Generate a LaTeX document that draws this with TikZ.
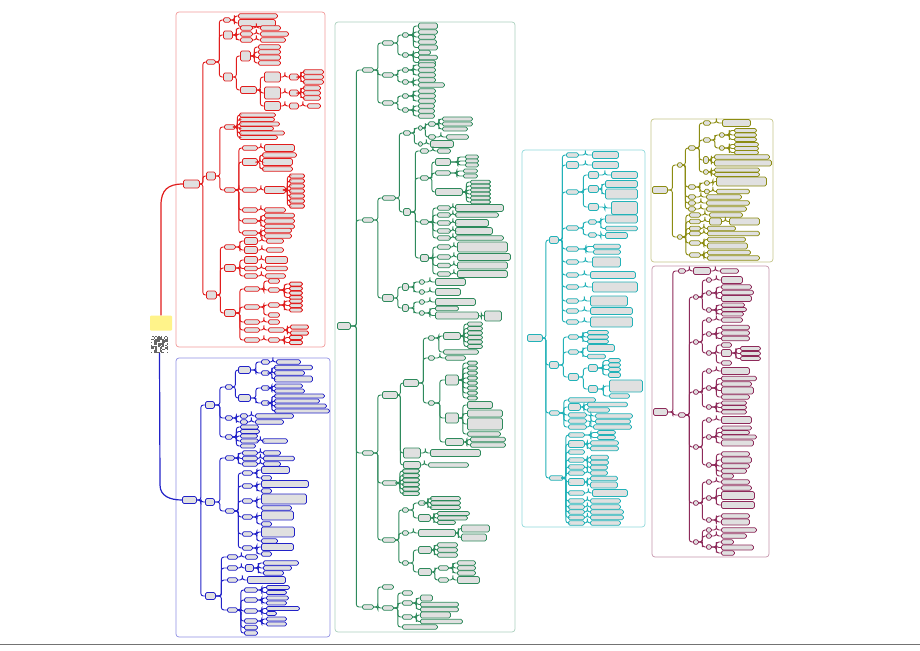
\documentclass[tikz,border=0pt]{standalone}
\usetikzlibrary{calc}
\definecolor{cred}{HTML}{E11D1D}
\definecolor{cblue}{HTML}{2222C8}
\definecolor{cgreen}{HTML}{2E8A5C}
\definecolor{ccyan}{HTML}{22B2B8}
\definecolor{colive}{HTML}{8C8C12}
\definecolor{cmar}{HTML}{8E2A5A}
\definecolor{cyel}{HTML}{FFF38A}
\colorlet{br}{cred}
\tikzset{
  bx/.style={draw=br, fill=black!12, line width=0.8pt, rounded corners=1.5pt, inner sep=0pt, anchor=west},
  ln/.style={draw=br, line width=0.9pt, rounded corners=2.5pt},
  frm/.style={line width=0.7pt, rounded corners=3pt},
}
\newcommand\nd[6][4.5]{%
  \node[bx, minimum width=#6pt, minimum height=#1pt] (#2) at (#4,#5) {};
  \draw[ln] (#3.east) -| ($(#3.east)!.5!(#2.west)$) |- (#2.west);}
\newcommand\stk[4]{%
  \foreach \yy/\ww/\hh [count=\i] in {#4} {\nd[\hh]{#2\i}{#1}{#3}{\yy}{\ww}}}
\begin{document}
\begin{tikzpicture}[x=1pt,y=-1pt]
\useasboundingbox[fill=white] (0,0) rectangle (920,650);
\draw[black!55, line width=0.8pt] (0,644) -- (920,644);
% frames
\draw[frm, draw=cred!45] (176,12) rectangle (325,347);
\draw[frm, draw=cblue!50] (176,358) rectangle (330,637);
\draw[frm, draw=cgreen!40] (335,22) rectangle (515,632);
\draw[frm, draw=ccyan!50] (522,150) rectangle (645,527);
\draw[frm, draw=colive!50] (651,119) rectangle (773,262);
\draw[frm, draw=cmar!50] (652,266) rectangle (769,557);

% root
\node[fill=cyel, rounded corners=1pt, minimum width=22pt, minimum height=15pt, inner sep=0pt] (root) at (161,323) {};
\node[fill=black!60, minimum size=17pt, inner sep=0pt] (qr) at (159.5,344.5) {};
\pgfmathsetseed{11}
\foreach \i in {0,...,11}
  \foreach \j in {0,...,11} {
    \pgfmathtruncatemacro\rr{rnd*2}
    \ifnum\rr=1 \fill[white] (151+\i*1.42,336+\j*1.42) rectangle ++(1.42,1.42); \fi}

% red
\colorlet{br}{cred}
\node[bx, minimum width=16pt, minimum height=8pt] (R) at (183,184) {};
\draw[cred, line width=1.2pt] (root.north) -- (161,205) .. controls (161,190) and (168,184) .. (R.west);
\nd{R1}{R}{206}{62}{9}
\nd[8]{R2}{R}{206}{176}{9}
\nd[8]{R3}{R}{206}{295}{10}
\nd{R1a}{R1}{223}{20}{7}
\nd[8]{R1b}{R1}{223}{35}{9}
\nd[8]{R1c}{R1}{223}{77}{9}
\stk{R1a}{R1a}{238}{16/39/4.5, 23/37/7}
\stk{R1b}{R1b}{240}{28/12/4.5, 34/12/4.5, 40/12/4.5}
\nd{R1b1a}{R1b1}{260}{28}{20}
\nd{R1b2a}{R1b2}{260}{34}{28}
\nd{R1b3a}{R1b3}{260}{40}{25}
\nd[10]{c1}{R1c}{240}{56}{10}
\nd[7]{c2}{R1c}{240}{90}{16}
\stk{c1}{c1}{258}{47/22/4.5, 52/22/4.5, 57.5/22/5, 63/22/4.5}
\nd[10]{c2a}{c2}{264}{77}{16}
\nd[12]{c2b}{c2}{264}{93}{16}
\nd[9]{c2c}{c2}{264}{106}{16}
\nd[6]{c2ax}{c2a}{289}{77}{9}
\nd[6]{c2bx}{c2b}{289}{93}{9}
\nd[6]{c2cx}{c2c}{289}{106}{9}
\stk{c2ax}{c2ax}{303}{72/20/4.5, 77/20/4.5, 82/20/4.5}
\stk{c2bx}{c2bx}{303}{88/17/4.5, 93/17/4.5, 98/17/4.5}
\nd{c2cx1}{c2cx}{307}{106}{13}
\nd{R2a}{R2}{224}{127}{11}
\nd{R2b}{R2}{224}{190}{11}
\stk{R2a}{R2a}{239}{115/36/4, 119.5/35/4, 124/40/4, 128.5/34/4, 133/45/4, 137.5/38/4}
\stk{R2b}{b}{242}{148/15/4.5, 162/15/7, 190/15/4.5, 210/15/4.5, 221/15/4.5, 233/15/4.5}
\nd[7]{b1x}{b1}{264}{148}{30}
\stk{b2}{b2x}{262}{155/34/4.5, 162/30/7, 169/30/4.5}
\nd[7]{b3x}{b3}{264}{190}{21}
\stk{b3x}{b3y}{289}{176/15/4.2, 181/15/4.2, 186/15/4.2, 191/15/4.2, 196/15/4.2, 201/15/4.2, 206/15/4.2}
\nd{b4x}{b4}{264}{210}{21}
\stk{b5}{b5x}{264}{215.5/30/4.5, 221/30/4.5, 226.5/30/4.5}
\stk{b6}{b6x}{264}{230.5/27/4.5, 236/27/4.5}
\nd{R3a}{R3}{224}{247}{11}
\nd[7]{R3b}{R3}{224}{268}{11}
\nd[7]{R3c}{R3}{224}{313}{11}
\stk{R3a}{ra}{244}{241/13/7, 250/13/7}
\nd{ra1x}{ra1}{266}{241}{17}
\nd{ra2x}{ra2}{266}{250}{17}
\stk{R3b}{rb}{244}{260/13/7, 268.5/13/4.5, 276/13/4.5}
\nd[7]{rb1x}{rb1}{265}{260}{22}
\nd{rb2x}{rb2}{265}{268.5}{22}
\nd{rb3x}{rb3}{265}{276}{20}
\stk{R3c}{rc}{244}{289/15/4.5, 307/15/4.5, 322/15/4.5, 330/15/4.5, 340/15/4.5}
\stk{rc1}{rc1x}{268}{281/11/4.5, 290/11/4.5}
\stk{rc1x2}{rc1y}{289}{284/13/3.8, 288.5/13/3.8, 293/13/3.8, 297.5/13/3.8}
\stk{rc2}{rc2x}{268}{305/11/4.5, 315/11/4.5}
\stk{rc2x1}{rc2y}{289}{301/13/3.8, 305.5/13/3.8, 310/13/3.8}
\nd{rc3x}{rc3}{268}{322}{11}
\nd{rc4x}{rc4}{268}{330}{16}
\stk{rc4x}{rc4y}{290}{327/18/4.2, 333/18/4.2}
\nd{rc5x}{rc5}{268}{340}{11}
\stk{rc5x}{rc5y}{289}{337.5/13/4.2, 342.5/13/4.2}

% blue
\colorlet{br}{cblue}
\node[bx, minimum width=14pt, minimum height=7pt] (B) at (182,500) {};
\draw[cblue, line width=1.2pt] (qr.south) -- (160,485) .. controls (160,496) and (170,500) .. (B.west);
\nd[7]{B1}{B}{205}{405}{9}
\nd[7]{B2}{B}{205}{502}{9}
\nd[7]{B3}{B}{205}{596}{10}
\nd{B1a}{B1}{225}{387}{7}
\nd{B1b}{B1}{225}{418}{7}
\nd{B1c}{B1}{225}{437}{7}
\nd[7]{a1}{B1a}{238}{370}{12}
\nd[7]{a2}{B1a}{238}{398}{12}
\nd{a1a}{a1}{261}{362}{8}
\nd{a1b}{a1}{261}{373}{8}
\nd{a1ax}{a1a}{276}{362}{24}
\stk{a1b}{a1bx}{274}{367.5/38/4.5, 373/30/4.5, 379/38/6}
\nd{a2a}{a2}{261}{388}{8}
\nd{a2b}{a2}{261}{403}{8}
\stk{a2a}{a2ax}{274}{386/28/4, 391/30/4}
\stk{a2b}{a2bx}{274}{396/50/4, 401/45/4, 406/52/4, 411/55/4}
\stk{B1b}{bb}{240}{416/7/4.5, 422/7/4.5}
\nd{bb1x}{bb1}{255}{416}{38}
\nd{bb2x}{bb2}{255}{422}{28}
\stk{B1c}{bc}{240}{427/18/4, 431.5/19/4, 436/17/4, 441/18/4, 446/15/4}
\nd{bc4x}{bc4}{262}{441}{25}
\nd{B2a}{B2}{225}{458}{9}
\nd{B2b}{B2}{225}{511}{9}
\stk{B2a}{ba}{242}{453/15/4.5, 458.5/15/4.5, 464/15/4.5}
\nd{ba1x}{ba1}{263}{453}{17}
\nd{ba2x}{ba2}{263}{458.5}{31}
\nd{ba3x}{ba3}{263}{464}{17}
\stk{B2b}{k}{242}{473/10/4.5, 486/10/4.5, 501/10/4.5, 517/10/4.5, 534/10/4.5, 548/10/4.5}
\nd[7]{k1a}{k1}{261}{470}{28}
\nd{k1b}{k1}{261}{478}{10}
\nd[7]{k2a}{k2}{261}{484}{47}
\nd{k2b}{k2}{261}{491}{10}
\nd[10]{k3a}{k3}{261}{499}{45}
\nd{k3b}{k3}{261}{508}{30}
\nd[9]{k4a}{k4}{261}{515.5}{32}
\nd{k4b}{k4}{261}{524}{10}
\nd[10]{k5a}{k5}{261}{532}{33}
\nd{k5b}{k5}{261}{541}{16}
\nd[7]{k6a}{k6}{261}{547}{32}
\nd{k6b}{k6}{261}{554}{10}
\stk{B3}{s}{227}{557/10/4.5, 568/10/4.5, 580/10/4.5, 610/10/4.5}
\nd{s1x}{s1}{245}{557}{12}
\nd[7]{s2x}{s2}{245}{568}{8}
\stk{s2x}{s2y}{263}{563/35/4.5, 568/28/4.5, 573/20/4.5}
\nd[7]{s3x}{s3}{247}{580}{38}
\stk{s4}{t}{244}{590/13/4.5, 600/13/4.5, 611/13/4.5, 621/13/4.5, 627.5/13/4.5, 633/13/4.5}
\stk{t1}{t1x}{266}{587.5/23/4, 592.5/20/4}
\stk{t2}{t2x}{266}{598/22/4, 603/20/4}
\stk{t3}{t3x}{266}{608.5/33/4, 613.5/10/4}
\stk{t4}{t4x}{266}{619/20/4, 624/20/4}

% green
\colorlet{br}{cgreen}
\node[bx, minimum width=13pt, minimum height=7pt] (G) at (337,326) {};
\stk{G}{G}{362}{70/11/4.5, 220/11/4.5, 453/11/4.5, 607/11/4.5}
\stk{G1}{ga}{382}{43/11/4.5, 75/11/4.5, 103/11/4.5}
\stk{ga1}{ga1x}{402}{35/6/4.5, 55/6/4.5}
\stk{ga1x1}{ga1y}{418}{26/19/6, 32/19/4.5, 37/17/4.5, 42/18/4.5, 47.5/19/5}
\stk{ga1x2}{ga1z}{418}{52.5/12/4.5, 57.5/19/4.5, 62.5/17/4.5}
\stk{ga2}{ga2x}{402}{70/6/4.5, 82/6/4.5}
\stk{ga2x1}{ga2y}{418}{65/17/4.5, 70/17/4.5, 75/17/4.5}
\stk{ga2x2}{ga2z}{418}{80/17/4.5, 85/26/4.5}
\stk{ga3}{ga3x}{402}{96/6/4.5, 110/6/4.5}
\stk{ga3x1}{ga3y}{418}{91/17/4.5, 96/17/4.5, 101/17/4.5}
\stk{ga3x2}{ga3z}{418}{106/16/4.5, 111/16/4.5, 116/16/4.5}
\nd{G2a}{G2}{382}{198}{13}
\nd[7]{G2b}{G2}{382}{298}{11}
\nd{p1}{G2a}{403}{133}{7}
\nd[7]{p2}{G2a}{403}{212}{7}
\nd{q1}{p1}{418}{128}{4}
\nd{q2}{p1}{418}{144}{4}
\nd{q11}{q1}{428}{124}{7}
\nd{q12}{q1}{428}{137}{7}
\stk{q11}{q11x}{442}{119/30/4, 124/30/4, 129/25/4}
\nd{q12x}{q12}{446}{137}{22}
\nd[7]{q2x}{q2}{430}{144}{23}
\stk{p2}{u}{420}{151/8/4.5, 178/8/4.5, 222/8/4.5, 258/8/7}
\nd{u1x}{u1}{437}{151}{13}
\nd[7]{u2a}{u2}{435}{162}{15}
\nd{u2b}{u2}{435}{173}{15}
\nd[7]{u2c}{u2}{435}{192}{27}
\stk{u2a}{u2ax}{465}{157/13/4, 161/13/4, 165/13/4}
\stk{u2b}{u2bx}{463}{171/14/4, 176/14/4}
\stk{u2c}{u2cx}{470}{182/20/3.6, 186/20/3.6, 190/20/3.6, 194/20/3.6, 198/20/3.6, 202/20/3.6}
\stk{u3}{u3x}{437}{208/13/4.5, 215/13/4.5, 223/13/4.5, 231/13/4.5, 238/13/4.5}
\nd[7]{u3y1}{u3x1}{455}{208}{48}
\nd{u3y2}{u3x2}{455}{215}{43}
\nd[7]{u3y3}{u3x3}{455}{223}{33}
\nd[7]{u3y4}{u3x4}{455}{231}{37}
\nd{u3y5}{u3x5}{455}{238}{48}
\stk{u4}{u4x}{437}{247/13/4.5, 257/13/4.5, 265.5/13/4.5, 274/13/4.5}
\nd[10]{u4y1}{u4x1}{457}{247}{50}
\nd[7]{u4y2}{u4x2}{457}{257}{53}
\nd[7]{u4y3}{u4x3}{457}{265.5}{50}
\nd[7]{u4y4}{u4x4}{457}{274}{50}
\nd[7]{v1}{G2b}{402}{287}{6}
\nd[7]{v2}{G2b}{402}{308}{6}
\stk{v1}{v1x}{419}{282/5/4.5, 292/5/4.5}
\nd[7]{v1y1}{v1x1}{435}{282}{30}
\nd[7]{v1y2}{v1x2}{435}{292}{25}
\stk{v2}{v2x}{419}{302/5/4.5, 313/5/4.5}
\nd[7]{v2y1}{v2x1}{435}{302}{40}
\nd{v2y2}{v2x2}{435}{308.5}{23}
\nd[7]{v2y3}{v2x2}{435}{315.5}{43}
\nd[10]{v2z}{v2y3}{484}{316}{17}
\nd[7]{G3a}{G3}{382}{395}{15}
\nd{G3b}{G3}{382}{483}{15}
\nd{G3c}{G3}{382}{540}{13}
\nd[7]{h1}{G3a}{403}{383}{15}
\nd[10]{h2}{G3a}{403}{453}{17}
\nd[7]{h3}{G3a}{403}{465}{17}
\stk{h1}{j}{428}{338/6/4.5, 358/6/4.5, 403/6/4.5}
\nd[7]{j1a}{j1}{443}{336}{17}
\nd{j1b}{j1}{443}{352}{35}
\stk{j1a}{j1x}{467}{324/15/4, 328.5/15/4, 333/15/4, 337.5/15/4, 342/15/4, 346.5/15/4}
\nd{j2a}{j2}{445}{358}{20}
\nd[10]{j3a}{j3}{445}{380}{13}
\nd[10]{j3b}{j3}{445}{418}{13}
\nd[7]{j3c}{j3}{445}{442}{18}
\stk{j3a}{j3x}{467}{363/10/3.8, 368/10/3.8, 373/10/3.8, 378/10/3.8, 383/10/3.8, 388/10/3.8, 393/10/3.8, 398/10/3.8}
\stk{j3b}{j3y}{467}{405/25/7, 413.5/35/7, 424/35/12, 434/33/4.5}
\stk{j3c}{j3z}{470}{439.5/35/4.5, 445/35/4.5}
\nd[7]{h2x}{h2}{430}{453}{50}
\nd{h3x}{h3}{428}{465}{40}
\stk{G3b}{gb}{402}{471/17/3.8, 475.5/17/3.8, 480/17/3.8, 484.5/17/3.8, 489/17/3.8, 493.5/17/3.8}
\stk{G3c}{w}{402}{510/6/4.5, 533/6/4.5, 563/6/4.5}
\nd{w1a}{w1}{418}{503}{7}
\nd[7]{w1b}{w1}{418}{518}{12}
\stk{w1a}{w1ax}{430}{498.5/30/4, 503/30/4, 507.5/30/4}
\stk{w1b}{w1bx}{437}{513.5/32/4, 518/30/4, 522.5/18/4}
\nd[7]{w2a}{w2}{418}{533}{37}
\stk{w2a}{w2ax}{461}{528.5/28/7, 537.5/25/7}
\nd[7]{w3a}{w3}{418}{550}{13}
\nd[7]{w3b}{w3}{418}{572}{13}
\stk{w3a}{w3ax}{437}{545/20/4.5, 550/20/4.5, 555/20/4.5}
\stk{w3b}{w3bx}{438}{568/10/4.5, 580/10/4.5}
\stk{w3bx1}{w3by}{457}{563/18/4.5, 568/18/4.5, 573/18/4.5}
\nd[7]{w3bz}{w3bx2}{457}{580}{22}
\nd{G4a}{G4}{382}{587}{11}
\nd{G4b}{G4}{382}{608}{11}
\stk{G4b}{z}{402}{593/10/4.5, 603/10/4.5, 617/10/4.5, 627/35/4.5}
\stk{z2}{z2x}{420}{598/12/6, 604.5/38/4.5, 609.5/38/4.5}
\stk{z3}{z3x}{420}{615/30/6, 621.5/42/4.5}

% cyan
\colorlet{br}{ccyan}
\node[bx, minimum width=15pt, minimum height=7pt] (C) at (527,338) {};
\stk{C}{C}{549}{240/9/7, 365/9/7, 413/10/4.5, 478/14/4.5}
\stk{C1}{cc}{566}{155/12/4.5, 165/12/7, 192/12/4.5, 228/12/4.5, 249/12/4.5, 262/12/4.5, 275/12/4.5, 287/12/4.5, 301/12/4.5, 311/12/4.5, 322/12/4.5}
\nd[7]{cc1x}{cc1}{592}{155}{26}
\nd[7]{cc2x}{cc2}{592}{165}{26}
\stk{cc3}{cc3x}{588}{175/10/7, 189/10/7, 207/10/7}
\nd[7]{cc3y1}{cc3x1}{611}{175}{26}
\stk{cc3x2}{cc3y2}{605}{184/32/7, 194/32/10}
\nd[13]{cc3y3}{cc3x3}{611}{208}{26}
\stk{cc4}{cc4x}{588}{222/8/4.5, 235/8/4.5}
\stk{cc4x1}{cc4y}{605}{219/32/8, 228.5/32/4.5}
\nd[6]{cc4z}{cc4x2}{605}{235.5}{22}
\stk{cc5}{cc5x}{593}{246.5/27/4.5, 252/27/4.5}
\nd[10]{cc6x}{cc6}{592}{262}{28}
\nd[7]{cc7x}{cc7}{590}{275}{45}
\nd[10]{cc8x}{cc8}{592}{287}{45}
\nd[10]{cc9x}{cc9}{590}{301}{37}
\nd[7]{cc10x}{cc10}{590}{311}{42}
\nd[10]{cc11x}{cc11}{590}{322}{42}
\stk{C2}{d}{568}{337/10/4.5, 352/10/4.5, 377/10/7}
\stk{d1}{d1x}{587}{332.5/21/4, 337/21/4, 341.5/21/4}
\stk{d2}{d2x}{587}{348/27/7, 356.5/18/4.5}
\nd[7]{d3a}{d3}{588}{368}{9}
\nd[7]{d3b}{d3}{588}{389}{9}
\stk{d3a}{d3ax}{608}{360.5/12/4, 365/12/4, 369.5/12/4, 375/12/5}
\nd[12]{d3bx1}{d3b}{609}{386}{33}
\nd{d3bx2}{d3b}{609}{396}{20}
\stk{C3}{e}{568}{400/27/4.5, 407/12/7, 415/18/4.5, 421/18/4.5, 427/18/4.5}
\stk{e2}{e2x}{587}{404.5/40/4.5, 410/22/4.5}
\nd{e3x}{e3}{595}{416}{37}
\nd{e4x}{e4}{595}{421.5}{35}
\nd{e5x}{e5}{593}{427}{38}
\stk{C4}{f}{568}{435/16/4.5, 444/16/7, 452/16/4.5, 460/16/4.5, 467/16/4.5, 473/16/4.5, 482/16/7, 493/16/4.5, 501/16/4.5, 507/16/4.5, 512/16/4.5, 517.5/16/4.5, 523/16/4.5}
\stk{f1}{f1x}{597}{432.5/18/4, 437.5/18/4}
\stk{f2}{f2x}{590}{443/28/4.5, 448.5/28/4.5}
\stk{f4}{f4x}{590}{457.5/18/4.5, 462.5/18/4.5}
\nd{f5x}{f5}{590}{467.5}{17}
\nd{f6x}{f6}{590}{473}{17}
\stk{f7}{f7x}{590}{478.5/27/4.5, 485/27/6}
\nd[7]{f8x}{f8}{592}{493}{35}
\nd{f9x}{f9}{590}{501}{30}
\nd{f10x}{f10}{590}{507}{30}
\nd{f11x}{f11}{590}{512}{33}
\nd{f12x}{f12}{590}{517.5}{33}
\nd{f13x}{f13}{590}{523}{30}

% olive
\colorlet{br}{colive}
\node[bx, minimum width=15pt, minimum height=7pt] (O) at (652,190) {};
\stk{O}{O}{677}{165/5/4.5, 237/5/4.5}
\stk{O1}{oa}{688}{148/7/4.5, 187/7/4.5, 197/7/4.5, 203/7/4.5, 209/7/4.5}
\stk{oa1}{ob}{703}{123/7/4.5, 140/7/4.5, 160/5/7, 172/5/4.5}
\nd[7]{ob1x}{ob1}{722}{123}{28}
\stk{ob2}{ob2x}{719}{135/5/4.5, 148/5/4.5}
\stk{ob2x1}{ob2y}{734}{130.5/22/4, 135/22/4, 139.5/22/4}
\stk{ob2x2}{ob2z}{734}{144.5/24/4, 148.5/24/4, 152.5/24/4}
\stk{ob3}{ob3x}{714}{157/55/4.5, 163/57/6}
\stk{ob4}{ob4x}{714}{170/45/4, 174.5/45/4}
\stk{oa2}{oc}{704}{183/5/4.5, 191.5/5/4.5}
\nd[9]{oc1x}{oc1}{716}{181.5}{50}
\nd{oc2x}{oc2}{716}{191.5}{33}
\nd{oa3x}{oa3}{706}{197}{35}
\nd{oa4x}{oa4}{706}{203}{43}
\nd{oa5x}{oa5}{706}{209}{40}
\stk{O2}{og}{689}{215/11/4.5, 221.5/11/4.5, 228.5/11/4.5, 233.5/11/4.5, 243/11/4.5, 255/11/4.5}
\nd{og1x}{og1}{709}{215}{33}
\nd[7]{og2x}{og2}{709}{221.5}{12}
\nd[7]{og2y}{og2x}{729}{221.5}{30}
\nd{og3x}{og3}{707}{228.5}{28}
\nd{og4x}{og4}{707}{233.5}{52}
\stk{og5}{og5x}{707}{239.5/38/4.5, 246/40/6}
\stk{og6}{og6x}{707}{252.5/43/4.5, 258/52/4.5}

% maroon
\colorlet{br}{cmar}
\node[bx, minimum width=14pt, minimum height=7pt] (M) at (653,412) {};
\stk{M}{M}{678}{271/7/4.5, 415/7/4.5}
\nd[7]{M1x}{M1}{693}{271}{17}
\nd{M1y}{M1x}{720}{271}{18}
\stk{M2}{m}{693}{297/5/4.5, 342/5/4.5, 392/5/4.5, 447/5/4.5, 503/5/4.5, 542/5/4.5}
\stk{m1}{m1x}{706}{280/5/4.5, 293/5/4.5, 310/5/4.5}
\nd[7]{m1y1}{m1x1}{721}{280}{21}
\stk{m1x2}{m1y2}{721}{287/30/4.5, 292.5/32/4.5, 298.5/30/6}
\stk{m1x3}{m1y3}{721}{305/23/4, 309.5/25/4, 314/22/4}
\stk{m2}{m2x}{706}{320/5/4.5, 334/5/4.5, 353/5/4.5}
\nd{m2y1}{m2x1}{721}{320}{21}
\stk{m2x2}{m2y2}{721}{327.5/28/4.5, 333/28/4.5, 338.5/28/4.5}
\stk{m2x3}{m2y3}{721}{345/10/4.5, 353/10/7, 363/10/4.5}
\stk{m2y32}{m2z}{740}{348.5/20/4, 353.5/20/4, 358.5/20/4}
\stk{m3}{m3x}{706}{371/5/4.5, 388/5/4.5, 407/5/4.5}
\nd[7]{m3y1}{m3x1}{721}{371}{28}
\stk{m3x2}{m3y2}{721}{378.5/35/4.5, 384/30/4.5, 390.5/32/7, 397/28/4.5}
\stk{m3x3}{m3y3}{721}{403/25/4, 407.5/25/4, 412/25/4}
\stk{m4}{m4x}{706}{420/5/4.5, 437/5/4.5, 465/5/4.5}
\nd[7]{m4y1}{m4x1}{721}{420}{30}
\stk{m4x2}{m4y2}{721}{428/30/4, 432.5/28/4, 437/35/4, 443/32/6}
\stk{m4x3}{m4y3}{721}{454/28/4.5, 460/30/6, 466/28/4.5, 471/25/4.5, 476/12/4.5}
\stk{m5}{m5x}{706}{482/5/4.5, 498/5/4.5, 520/5/4.5}
\nd{m5y1}{m5x1}{721}{482}{28}
\stk{m5x2}{m5y2}{721}{488/30/4.5, 495.5/33/8, 505/33/7}
\stk{m5x3}{m5y3}{721}{516/28/4.5, 522/28/6}
\stk{m6}{m6x}{706}{530/5/4.5, 536/5/4.5, 547/5/4.5}
\nd{m6y1}{m6x1}{721}{530}{35}
\nd{m6y2}{m6x2}{721}{536}{25}
\stk{m6x3}{m6y3}{721}{542/12/4.5, 547.5/32/5, 553/13/4.5}
\end{tikzpicture}
\end{document}
